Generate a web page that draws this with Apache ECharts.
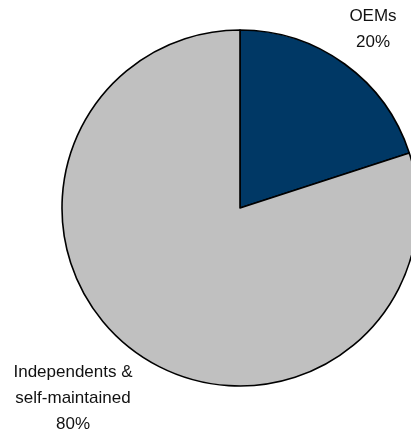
<!DOCTYPE html>
<html>
<head>
<meta charset="utf-8">
<script src="https://cdn.jsdelivr.net/npm/echarts@6/dist/echarts.min.js"></script>
<style>html,body{margin:0;padding:0;background:#fff}#c{width:411px;height:437px}</style>
</head>
<body>
<div id="c"></div>
<script>
var categories = ["OEMs", "Independents &\nself-maintained"];
var values = [20, 80];
var colors = ["#003865", "#C0C0C0"];
var labelPos = [[373, 29], [73, 398]];

var chart = echarts.init(document.getElementById('c'), null, {renderer: 'canvas'});
chart.setOption({
  animation: false,
  backgroundColor: '#ffffff',
  series: [{
    type: 'pie',
    center: [240, 208],
    radius: 178,
    startAngle: 90,
    clockwise: true,
    data: categories.map(function (c, i) {
      return {name: c, value: values[i], itemStyle: {color: colors[i]}};
    }),
    itemStyle: {borderColor: '#000', borderWidth: 1.6},
    label: {
      show: true,
      position: 'outside',
      formatter: '{b}\n{d}%',
      fontFamily: '"Liberation Sans Narrow", "Arial Narrow", "Liberation Sans", Arial, sans-serif',
      fontSize: 17,
      lineHeight: 26,
      color: '#111',
      align: 'center',
      overflow: 'none',
      width: 200
    },
    labelLine: {show: false},
    labelLayout: function (p) {
      return {x: labelPos[p.dataIndex][0], y: labelPos[p.dataIndex][1], align: 'center', verticalAlign: 'middle', hideOverlap: false};
    },
    emphasis: {disabled: true}
  }]
});
</script>
</body>
</html>
